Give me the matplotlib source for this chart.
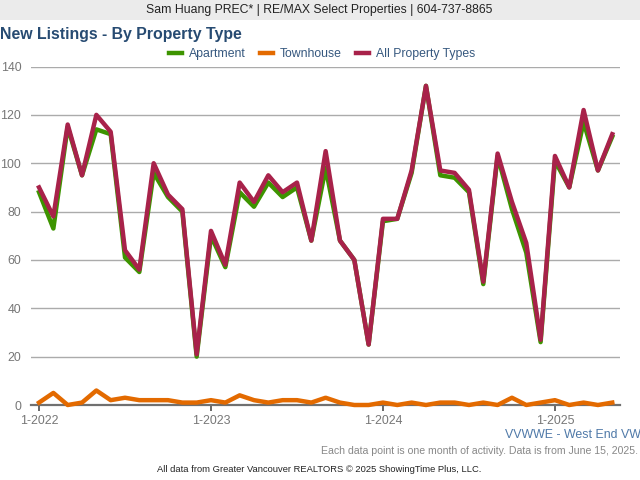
import matplotlib
matplotlib.use("Agg")
import matplotlib.pyplot as plt
from matplotlib.patches import Rectangle

plt.rcParams['font.family'] = ['Liberation Sans', 'DejaVu Sans']

# one value per month, 1-2022 to 5-2025
apartment = [88, 73, 115, 95, 114, 112, 61, 55, 96, 86, 80, 20,
             70, 57, 88, 82, 92, 86, 90, 68, 98, 68, 60, 25,
             76, 77, 96, 132, 95, 94, 88, 50, 103, 81, 63, 26,
             101, 90, 117, 97, 111]
townhouse = [1, 5, 0, 1, 6, 2, 3, 2, 2, 2, 1, 1,
             2, 1, 4, 2, 1, 2, 2, 1, 3, 1, 0, 0,
             1, 0, 1, 0, 1, 1, 0, 1, 0, 3, 0, 1,
             2, 0, 1, 0, 1]
all_types = [90, 78, 116, 95, 120, 113, 64, 56, 100, 87, 81, 21,
             72, 58, 92, 84, 95, 88, 92, 68, 105, 68, 60, 25,
             77, 77, 97, 132, 97, 96, 89, 51, 104, 84, 67, 27,
             103, 90, 122, 97, 112]
tick_months = [0, 12, 24, 36]
tick_labels = ['1-2022', '1-2023', '1-2024', '1-2025']
y_ticks = [0, 20, 40, 60, 80, 100, 120, 140]

W, H = 640, 480
fig = plt.figure(figsize=(W / 100, H / 100), dpi=100, facecolor='white')
ax = fig.add_axes([31 / W, 1 - 405 / H, 589 / W, 338.5 / H])

months = list(range(len(all_types)))
line_w = 3.2
ax.plot(months, apartment, color='#3d9400', lw=line_w, label='Apartment', zorder=3, clip_on=False)
ax.plot(months, townhouse, color='#e36a00', lw=line_w, label='Townhouse', zorder=4, clip_on=False)
ax.plot(months, all_types, color='#a8224a', lw=line_w, label='All Property Types', zorder=5, clip_on=False)

ax.set_xlim(-0.56, 40.54)
ax.set_ylim(0, 140)
ax.set_yticks(y_ticks)
ax.set_xticks(tick_months)
ax.set_xticklabels(tick_labels)
ax.grid(True, axis='y', color='#ababab', lw=1.0, zorder=1)
ax.tick_params(axis='y', length=0, pad=7, labelsize=8.9, labelcolor='#777777')
ax.tick_params(axis='x', length=4, width=1.4, color='#666666', pad=3, labelsize=8.9, labelcolor='#777777')
for name in ['top', 'right', 'left']:
    ax.spines[name].set_visible(False)
ax.spines['bottom'].set_color('#707070')
ax.spines['bottom'].set_linewidth(1.6)
ax.spines['bottom'].set_zorder(2)

leg = ax.legend(loc='center', bbox_to_anchor=(322 / W, 1 - 54 / H), bbox_transform=fig.transFigure,
                ncol=3, frameon=False, fontsize=8.8, handlelength=1.05, handletextpad=0.55,
                columnspacing=1.2, labelcolor='#36587f', borderpad=0, borderaxespad=0)

# header band and texts
fig.add_artist(Rectangle((0, 1 - 20 / H), 1, 20 / H, transform=fig.transFigure, color='#ebebeb', lw=0))
fig.text(319.5 / W, 1 - 10.5 / H, 'Sam Huang PREC* | RE/MAX Select Properties | 604-737-8865',
         ha='center', va='center', fontsize=8.8, color='#222222')
fig.text(0, 1 - 34.5 / H, 'New Listings - By Property Type', ha='left', va='center',
         fontsize=11.45, fontweight='bold', color='#274b72')
fig.text(505 / W, 1 - 435 / H, 'VVWWE - West End VW', ha='left', va='center', fontsize=8.9, color='#4f79a8')
fig.text(638 / W, 1 - 451.5 / H, 'Each data point is one month of activity. Data is from June 15, 2025.',
         ha='right', va='center', fontsize=7.55, color='#888888')
fig.text(319 / W, 1 - 470 / H, 'All data from Greater Vancouver REALTORS © 2025 ShowingTime Plus, LLC.',
         ha='center', va='center', fontsize=6.75, color='#222222')

fig.savefig('out.png', dpi=100)
